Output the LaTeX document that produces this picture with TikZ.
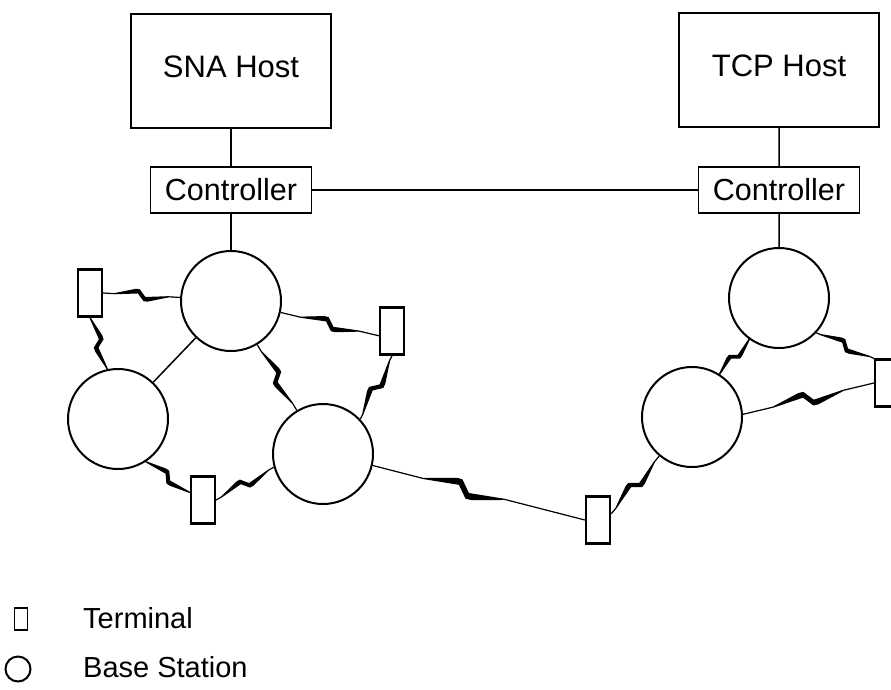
\documentclass[tikz,border=0pt]{standalone}
\usepackage{fontspec}
\setmainfont{Liberation Sans}
\usetikzlibrary{calc}

% point on a radio link: #1 along, #2 across, from the bolt centre
\newcommand\bpos{0.5}
\newcommand\bsz{1pt}
\newcommand\bp[2]{($(\tikztostart)!\bpos!(\tikztotarget)!{(#1)*\bsz}!(\tikztotarget)!{(#2)*\bsz}!90:(\tikztotarget)$)}

\tikzset{
  host/.style={draw,line width=1.8pt,minimum width=200pt,minimum height=114pt,text depth=8pt,font=\fontsize{31}{36}\selectfont},
  ctrl/.style={draw,line width=1.8pt,minimum width=161pt,minimum height=46pt,inner sep=0pt,font=\fontsize{30.5}{36}\selectfont},
  base/.style={draw,circle,line width=2pt,minimum size=100pt,inner sep=0pt},
  term/.style={draw,rectangle,line width=2.3pt,minimum width=24pt,minimum height=47pt,inner sep=0pt},
  link/.style={line width=1.5pt},
  radio/.style={line width=1.2pt,line join=miter,fill=black},
  % lightning kink at #1 of the way, scaled by #2
  bolt/.style 2 args={/utils/exec={\def\bpos{#1}\def\bsz{#2}},
    to path={-- \bp{-30}{0} \bp{-30}{0} -- \bp{-7}{6} -- \bp{-3}{6} -- \bp{4}{-2.4} -- \bp{30}{0}
      -- \bp{7}{-6} -- \bp{3}{-6} -- \bp{-4}{2.4} -- cycle \bp{30}{0} -- (\tikztotarget)}},
  legend/.style={anchor=west,inner sep=0pt,font=\fontsize{29}{34}\selectfont}
}

\begin{document}
\begin{tikzpicture}[x=1pt,y=-1pt]
\useasboundingbox (0,0) rectangle (891,689);

% hosts and controllers
\node[host] (sna) at (231,71) {SNA Host};
\node[host] (tcp) at (779,70) {TCP Host};
\node[ctrl] (sctl) at (231,190) {Controller};
\node[ctrl] (tctl) at (779,190) {Controller};

% base stations
\node[base] (b1) at (231,301) {};
\node[base] (b2) at (118,419) {};
\node[base] (b3) at (323,454) {};
\node[base] (b4) at (779,298) {};
\node[base] (b5) at (692,417) {};

% terminals
\node[term] (t1) at (90,293) {};
\node[term] (t2) at (392,331) {};
\node[term] (t3) at (203,500) {};
\node[term] (t4) at (598,520) {};
\node[term] (t5) at (887,383) {};

% wired links
\draw[link] (sna) -- (sctl) (sctl) -- (b1) (sctl) -- (tctl);
\draw[link] (tcp) -- (tctl) (tctl) -- (b4) (b1) -- (b2);

% radio links
\draw[radio] (t1.east) to[bolt={0.5}{0.9pt}] (b1.176);
\draw[radio] (t1.south) to[bolt={0.5}{0.9pt}] (b2.102);
\draw[radio] (b1.-13) to[bolt={0.5}{1pt}] (t2.200);
\draw[radio] (t2.south) to[bolt={0.5}{1pt}] (b3.43);
\draw[radio] (b1.-59) to[bolt={0.5}{1pt}] (b3.121);
\draw[radio] (b2.-57) to[bolt={0.5}{0.9pt}] (t3.150);
\draw[radio] (t3.east) to[bolt={0.5}{0.9pt}] (b3.195);
\draw[radio] (b3.-13) to[bolt={0.43}{1.4pt}] (t4.west);
\draw[radio] (t4.25) to[bolt={0.5}{1pt}] (b5.230);
\draw[radio] (b5.57) to[bolt={0.5}{0.8pt}] (b4.234);
\draw[radio] (b4.-43) to[bolt={0.5}{0.9pt}] (t5.north west);
\draw[radio] (b5.3) to[bolt={0.5}{1.2pt}] (t5.west);

% legend
\node[term,minimum width=13pt,minimum height=22pt,line width=1.6pt] (kt) at (21,619) {};
\node[legend] (lt) at (83,618) {Terminal};
\node[base,minimum size=25pt] (kb) at (18,669) {};
\node[legend] (lb) at (83,667) {Base Station};
\end{tikzpicture}
\end{document}
